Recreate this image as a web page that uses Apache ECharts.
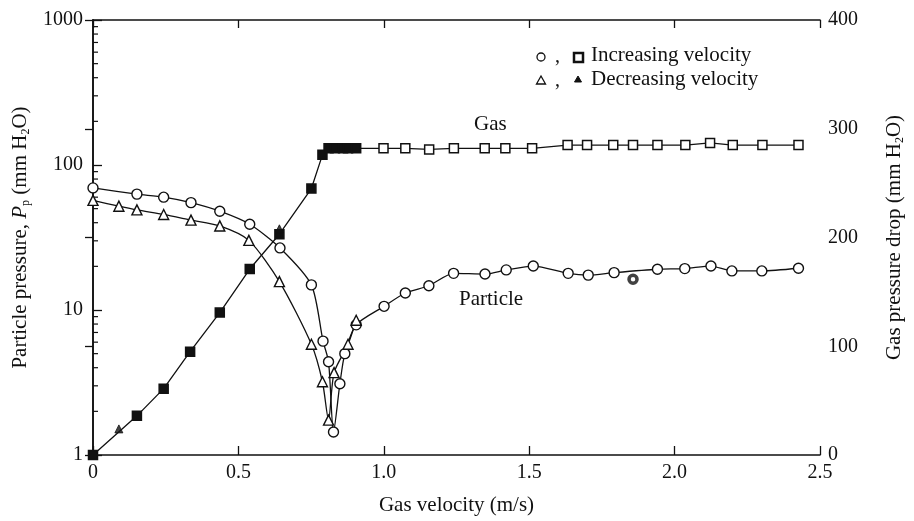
<!DOCTYPE html>
<html>
<head>
<meta charset="utf-8">
<script src="https://cdn.jsdelivr.net/npm/echarts@6/dist/echarts.min.js"></script>
<style>
html,body{margin:0;padding:0;background:#fff;}
#chart{width:914px;height:521px;}
</style>
</head>
<body>
<div id="chart"></div>
<script>
// ---- data ----
var xTicks = [0, 0.5, 1.0, 1.5, 2.0, 2.5];
var leftTicks = [1, 10, 100, 1000];
var rightTicks = [0, 100, 200, 300, 400];

// Particle pressure, increasing velocity (open circles)
var incX = [0, 0.151, 0.243, 0.337, 0.436, 0.539, 0.643, 0.751, 0.791, 0.810, 0.827, 0.849, 0.866, 0.905, 1.001, 1.074, 1.155, 1.240, 1.348, 1.421, 1.514, 1.634, 1.703, 1.792, 1.941, 2.035, 2.125, 2.197, 2.300, 2.426];
var incP = [69.5, 63, 60, 55, 48, 39, 26.8, 14.9, 6.1, 4.4, 1.44, 3.1, 5.0, 7.9, 10.6, 13.1, 14.7, 17.9, 17.7, 18.9, 20.1, 17.9, 17.4, 18.1, 19.1, 19.3, 20.1, 18.6, 18.6, 19.4];

// Particle pressure, decreasing velocity (open triangles)
var decX = [0, 0.089, 0.151, 0.243, 0.337, 0.436, 0.536, 0.641, 0.751, 0.789, 0.810, 0.829, 0.877, 0.905];
var decP = [57, 52, 49, 45.6, 41.7, 38, 30.2, 15.7, 5.8, 3.2, 1.74, 3.7, 5.8, 8.5];

// Isolated bold circle
var oddX = [1.857];
var oddP = [16.3];

// Gas pressure drop, increasing velocity (squares)
var gasX = [0, 0.151, 0.243, 0.334, 0.436, 0.539, 0.641, 0.751, 0.789, 0.810, 0.832, 0.860, 0.877, 0.905, 0.999, 1.074, 1.156, 1.241, 1.347, 1.418, 1.510, 1.632, 1.699, 1.789, 1.857, 1.941, 2.037, 2.122, 2.200, 2.302, 2.426];
var gasP = [0, 36, 61, 95, 131, 171, 203, 245, 276, 282, 282, 282, 282, 282, 282, 282, 281, 282, 282, 282, 282, 285, 285, 285, 285, 285, 285, 287, 285, 285, 285];

// Gas pressure drop, decreasing velocity (filled triangles)
var gasDecX = [0.089, 0.641];
var gasDecP = [24, 208];

// log-axis minor tick values
var minorTicks = [2,3,4,5,6,7,8,9,20,30,40,50,60,70,80,90,200,300,400,500,600,700,800,900];

// ---- build ----
function pairs(xs, ys) { return xs.map(function (x, i) { return [x, ys[i]]; }); }

var FONT = '"Liberation Serif", "DejaVu Serif", serif';
var INK = '#111';

var chart = echarts.init(document.getElementById('chart'), null, { renderer: 'canvas' });

var gasData = gasX.map(function (x, i) {
  var d = { value: [x, gasP[i]] };
  if (x < 0.92) d.itemStyle = { color: INK };
  return d;
});

var option = {
  animation: false,
  backgroundColor: '#fff',
  textStyle: { fontFamily: FONT, color: INK },
  grid: { left: 92, right: 82, top: 20, bottom: 59, containLabel: false },
  xAxis: [{
    type: 'value', min: 0, max: 2.5, interval: 0.5, position: 'bottom',
    name: 'Gas velocity (m/s)', nameLocation: 'middle', nameGap: 40,
    nameTextStyle: { fontFamily: FONT, fontSize: 21, color: INK },
    axisLine: { show: true, lineStyle: { color: INK, width: 1.6 } },
    axisTick: { show: true, inside: true, length: 9, lineStyle: { color: INK, width: 1.3 } },
    axisLabel: { fontFamily: FONT, fontSize: 20, color: INK, margin: 8,
      formatter: function (v) { return v === 0 ? '0' : v.toFixed(1); } },
    splitLine: { show: false }
  }, {
    type: 'value', min: 0, max: 2.5, interval: 0.5, position: 'top',
    axisLine: { show: true, lineStyle: { color: INK, width: 1.6 } },
    axisTick: { show: true, inside: true, length: 8, lineStyle: { color: INK, width: 1.3 } },
    axisLabel: { show: false }, splitLine: { show: false }
  }],
  yAxis: [{
    type: 'log', logBase: 10, min: 1, max: 1000, position: 'left',
    name: 'Particle pressure, {i|P}{s|p} (mm H{s|2}O)', nameLocation: 'middle', nameGap: 61, nameRotate: 90,
    nameTextStyle: { fontFamily: FONT, fontSize: 21, color: INK, lineHeight: 24,
      rich: { i: { fontStyle: 'italic', fontFamily: FONT, fontSize: 21, lineHeight: 24 },
              s: { fontFamily: FONT, fontSize: 12, lineHeight: 12, verticalAlign: 'bottom' } } },
    axisLine: { show: true, lineStyle: { color: INK, width: 1.6 } },
    axisTick: { show: true, inside: true, length: 9, lineStyle: { color: INK, width: 1.3 } },
    minorTick: { show: false },
    axisLabel: { fontFamily: FONT, fontSize: 20, color: INK, margin: 10,
      formatter: function (v) { return String(Math.round(v)); } },
    splitLine: { show: false }
  }, {
    type: 'value', min: 0, max: 400, interval: 100, position: 'right',
    name: 'Gas pressure drop (mm H{s|2}O)', nameLocation: 'middle', nameGap: 62, nameRotate: 90,
    nameTextStyle: { fontFamily: FONT, fontSize: 21, color: INK, lineHeight: 24,
      rich: { s: { fontFamily: FONT, fontSize: 12, lineHeight: 12, verticalAlign: 'bottom' } } },
    axisLine: { show: true, lineStyle: { color: INK, width: 1.6 } },
    axisTick: { show: true, inside: true, length: 8, lineStyle: { color: INK, width: 1.3 } },
    axisLabel: { fontFamily: FONT, fontSize: 20, color: INK, margin: 8 },
    splitLine: { show: false }
  }],
  series: [
    {
      name: 'minor', type: 'custom', xAxisIndex: 0, yAxisIndex: 0, silent: true, z: 1,
      data: minorTicks.map(function (v) { return [0, v]; }),
      renderItem: function (params, api) {
        var p = api.coord([0, api.value(1)]);
        return { type: 'line', shape: { x1: p[0], y1: p[1], x2: p[0] + 5, y2: p[1] },
                 style: { stroke: INK, lineWidth: 1.2 } };
      }
    },
    {
      name: 'Gas, increasing', type: 'line', xAxisIndex: 0, yAxisIndex: 1, z: 3,
      data: gasData, symbol: 'rect', symbolSize: 9, showAllSymbol: true,
      lineStyle: { color: INK, width: 1.3 },
      itemStyle: { color: '#fff', borderColor: INK, borderWidth: 1.5 }
    },
    {
      name: 'Gas, decreasing', type: 'scatter', xAxisIndex: 0, yAxisIndex: 1, z: 4,
      data: pairs(gasDecX, gasDecP), symbol: 'triangle', symbolSize: 8,
      itemStyle: { color: INK, borderColor: INK, borderWidth: 1 }
    },
    {
      name: 'Particle, increasing', type: 'line', xAxisIndex: 0, yAxisIndex: 0, z: 3,
      data: pairs(incX, incP), smooth: 0.25, symbol: 'circle', symbolSize: 10, showAllSymbol: true,
      lineStyle: { color: INK, width: 1.3 },
      itemStyle: { color: '#fff', borderColor: INK, borderWidth: 1.4 }
    },
    {
      name: 'Particle, decreasing', type: 'line', xAxisIndex: 0, yAxisIndex: 0, z: 3,
      data: pairs(decX, decP), smooth: 0.25, symbol: 'triangle', symbolSize: 10, showAllSymbol: true,
      lineStyle: { color: INK, width: 1.3 },
      itemStyle: { color: '#fff', borderColor: INK, borderWidth: 1.4 }
    },
    {
      name: 'Particle, odd', type: 'scatter', xAxisIndex: 0, yAxisIndex: 0, z: 4,
      data: pairs(oddX, oddP), symbol: 'circle', symbolSize: 8,
      itemStyle: { color: '#fff', borderColor: INK, borderWidth: 3.5 }
    }
  ],
  graphic: [
    { type: 'text', left: 474, top: 114, style: { text: 'Gas', font: '21px ' + FONT, fill: INK } },
    { type: 'text', left: 459, top: 289, style: { text: 'Particle', font: '21px ' + FONT, fill: INK } },
    // legend row 1
    { type: 'circle', shape: { cx: 541, cy: 57, r: 4 }, style: { fill: '#fff', stroke: INK, lineWidth: 1.3 } },
    { type: 'text', x: 555, y: 47, style: { text: ',', font: '20px ' + FONT, fill: INK } },
    { type: 'rect', shape: { x: 574, y: 53, width: 9, height: 9 }, style: { fill: '#fff', stroke: INK, lineWidth: 2.5 } },
    { type: 'text', x: 591, y: 45, style: { text: 'Increasing velocity', font: '21px ' + FONT, fill: INK } },
    // legend row 2
    { type: 'polygon', shape: { points: [[541, 76], [545.5, 84], [536.5, 84]] }, style: { fill: '#fff', stroke: INK, lineWidth: 1.3 } },
    { type: 'text', x: 555, y: 71, style: { text: ',', font: '20px ' + FONT, fill: INK } },
    { type: 'polygon', shape: { points: [[578, 76], [581.5, 82], [574.5, 82]] }, style: { fill: INK, stroke: INK, lineWidth: 1 } },
    { type: 'text', x: 591, y: 69, style: { text: 'Decreasing velocity', font: '21px ' + FONT, fill: INK } }
  ]
};

chart.setOption(option);
</script>
</body>
</html>
